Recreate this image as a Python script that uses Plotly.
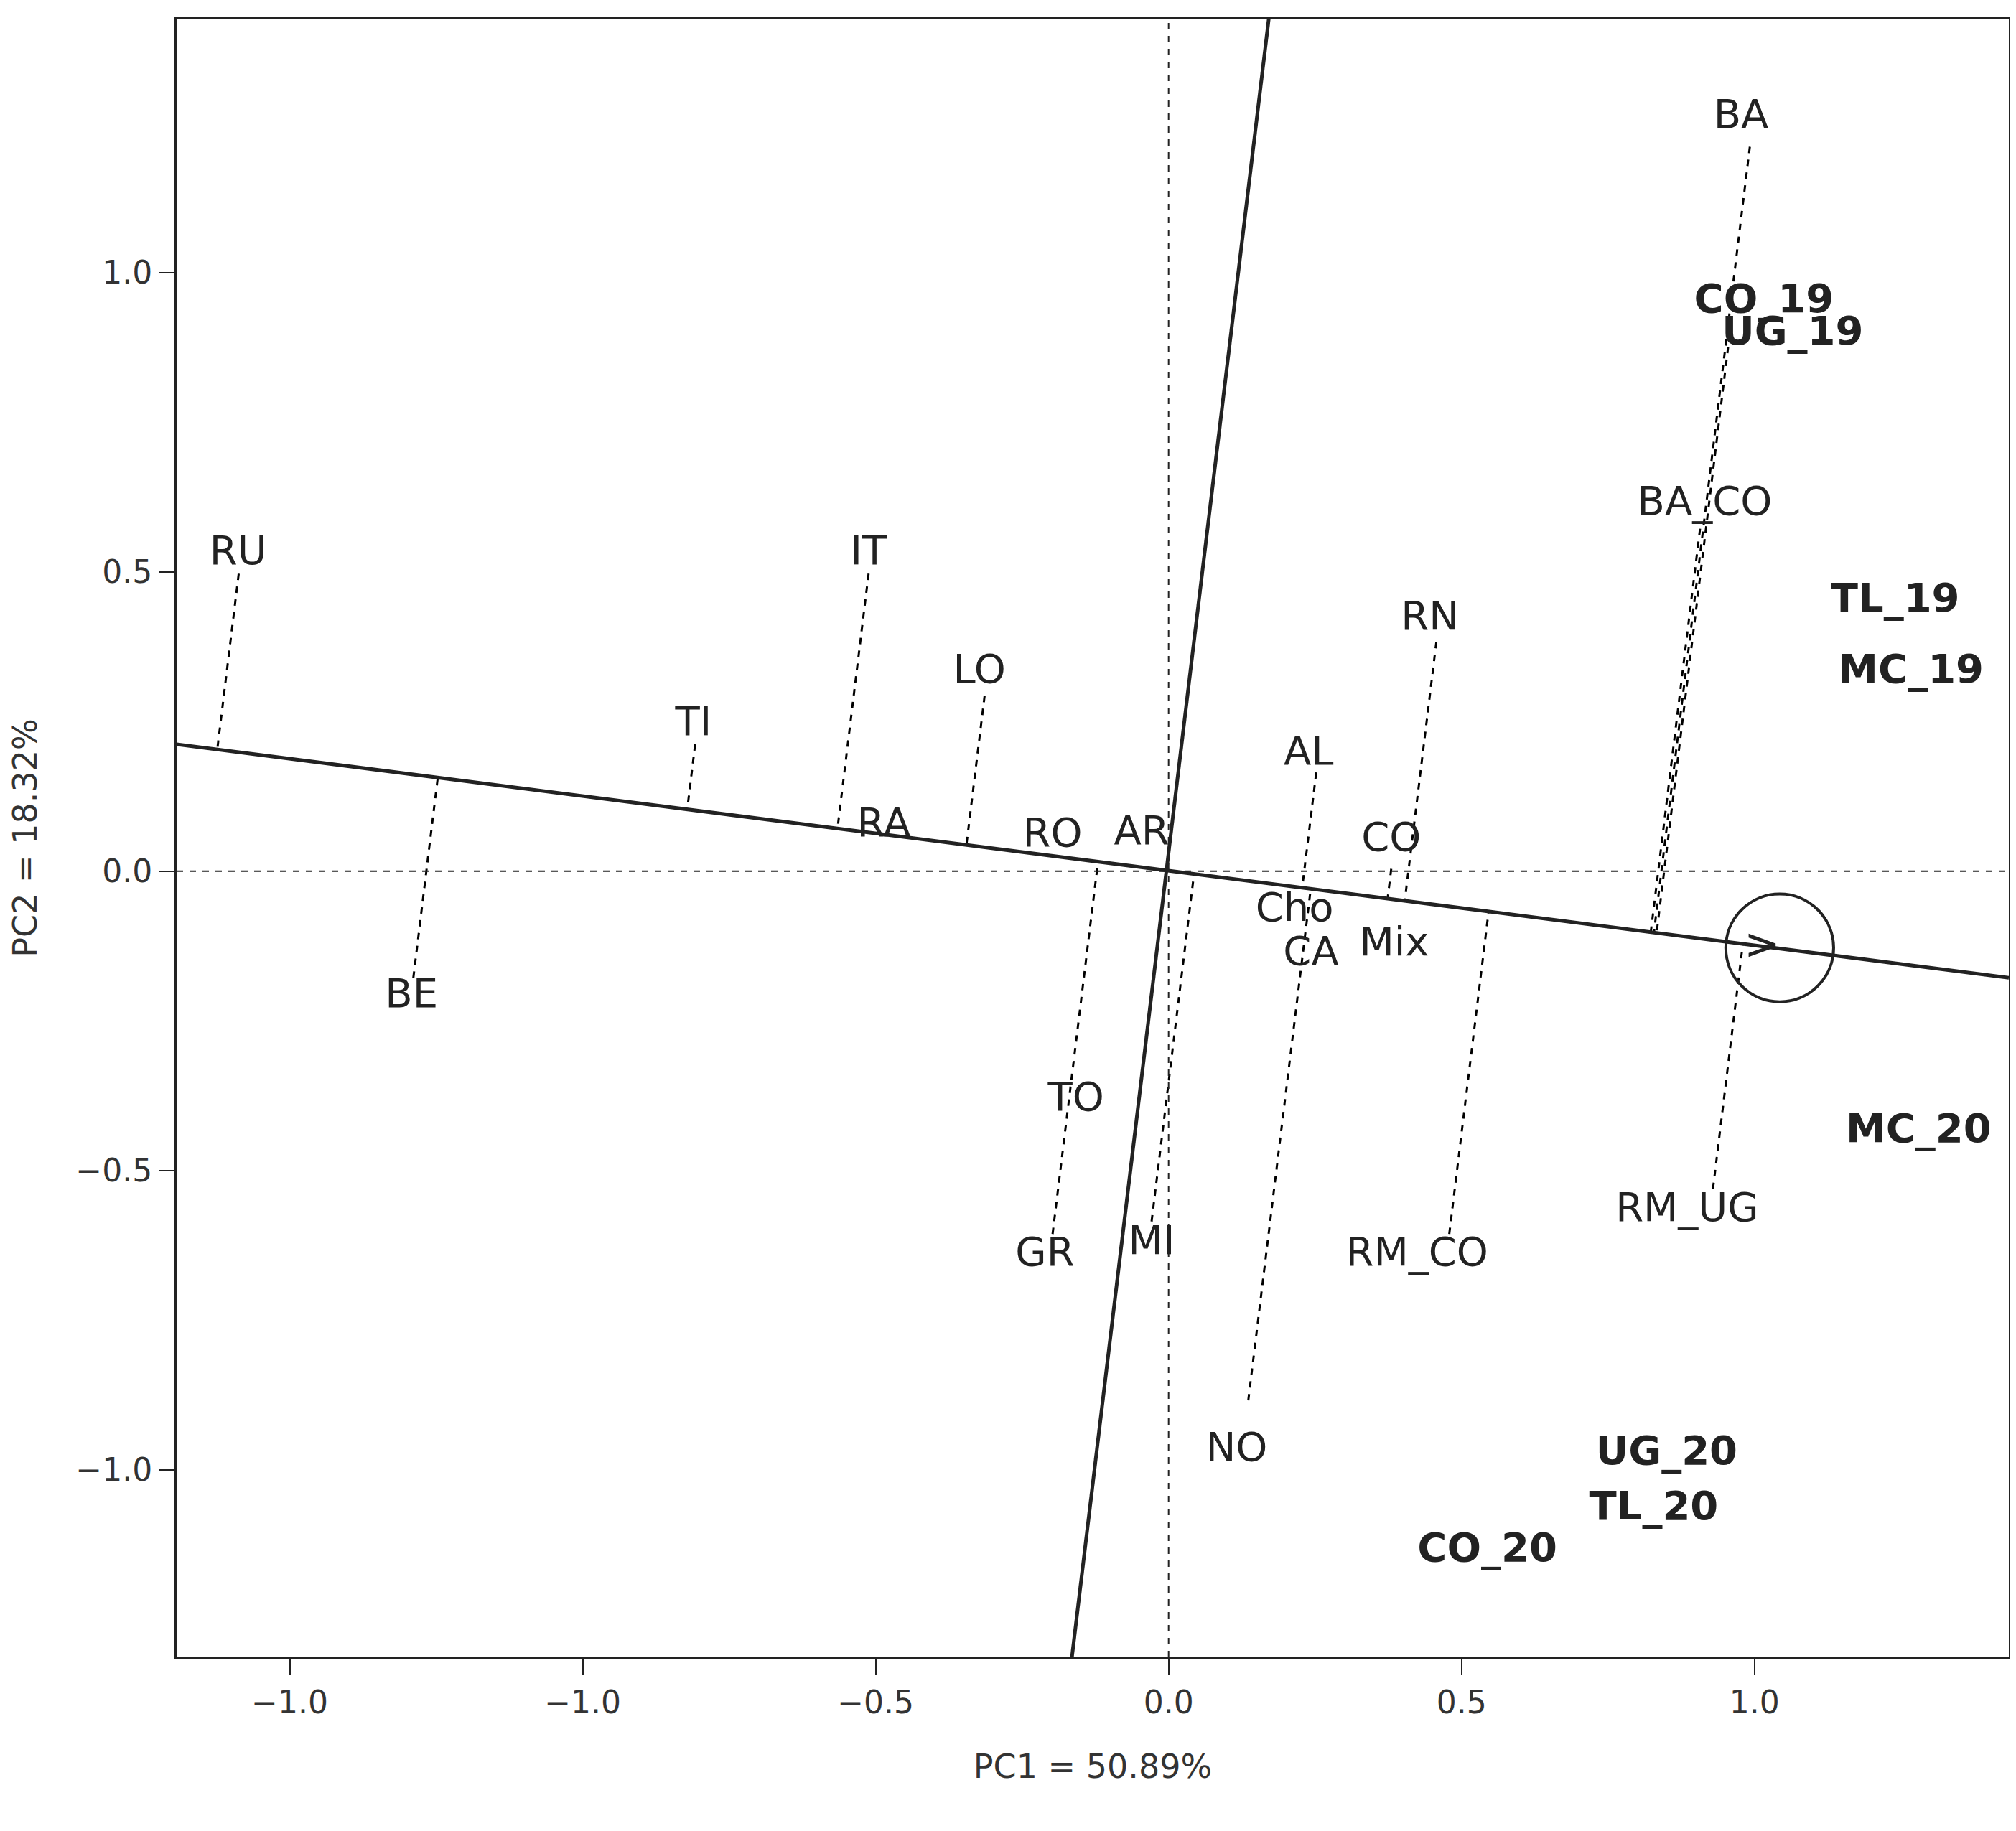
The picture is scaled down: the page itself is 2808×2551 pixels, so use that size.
import plotly.graph_objects as go

# genotype labels (regular weight)
gen_names = ["RU","IT","LO","TI","RA","RO","AR","BE","TO","GR","MI","NO","AL","Cho","CA","CO","Mix","RN","RM_CO","BA","BA_CO","RM_UG"]
gen_x = [-1.588,-0.512,-0.323,-0.811,-0.486,-0.198,-0.046,-1.292,-0.158,-0.211,-0.029,0.116,0.239,0.215,0.243,0.380,0.385,0.446,0.424,0.977,0.915,0.885]
gen_y = [0.530,0.530,0.332,0.244,0.075,0.058,0.062,-0.210,-0.383,-0.642,-0.623,-0.968,0.195,-0.066,-0.139,0.051,-0.124,0.420,-0.642,1.259,0.612,-0.567]

# environment labels (bold)
env_names = ["CO_19","UG_19","TL_19","MC_19","MC_20","UG_20","TL_20","CO_20"]
env_x = [1.016,1.065,1.240,1.267,1.280,0.850,0.828,0.544]
env_y = [0.951,0.897,0.450,0.332,-0.435,-0.974,-1.066,-1.135]

# dashed projection lines: outer end points
proj_x = [-1.587,-0.512,-0.314,-0.808,-1.289,-0.198,-0.029,0.136,0.252,0.380,0.457,0.479,0.992,0.907,0.955,0.929]
proj_y = [0.497,0.497,0.293,0.212,-0.178,-0.606,-0.585,-0.884,0.165,0.004,0.383,-0.606,1.210,0.572,0.876,-0.531]

# average environment axis and its perpendicular
aea_x = [-1.693, 1.434]
aea_y = [0.212, -0.178]
perp_x = [0.171, -0.165]
perp_y = [1.424, -1.313]
circ_cx, circ_cy, circ_rx, circ_ry = 1.043, -0.128, 0.092, 0.090

xrange_ = [-1.693, 1.434]
yrange_ = [-1.313, 1.424]
xticks = [-1.5, -1.0, -0.5, 0.0, 0.5, 1.0]
xticktext = ["−1.0", "−1.0", "−0.5", "0.0", "0.5", "1.0"]
yticks = [-1.0, -0.5, 0.0, 0.5, 1.0]
yticktext = ["−1.0", "−0.5", "0.0", "0.5", "1.0"]

fig = go.Figure()
dx, dy = aea_x[1]-aea_x[0], aea_y[1]-aea_y[0]
L2 = dx*dx+dy*dy
for px, py in zip(proj_x, proj_y):
    t = ((px-aea_x[0])*dx + (py-aea_y[0])*dy)/L2
    qx, qy = aea_x[0]+t*dx, aea_y[0]+t*dy
    fig.add_trace(go.Scatter(x=[px, qx], y=[py, qy], mode="lines",
                             line=dict(color="black", width=3, dash="dash"), hoverinfo="skip"))
fig.add_trace(go.Scatter(x=aea_x, y=aea_y, mode="lines", line=dict(color="#222", width=5)))
fig.add_trace(go.Scatter(x=perp_x, y=perp_y, mode="lines", line=dict(color="#222", width=5)))
fig.add_trace(go.Scatter(x=gen_x, y=gen_y, mode="text", text=gen_names,
                         textfont=dict(family="DejaVu Sans", size=56, color="#222")))
fig.add_trace(go.Scatter(x=env_x, y=env_y, mode="text", text=["<b>%s</b>" % n for n in env_names],
                         textfont=dict(family="DejaVu Sans", size=56, color="#222")))
fig.add_trace(go.Scatter(x=[circ_cx-0.03], y=[circ_cy], mode="text", text=[">"],
                         textfont=dict(family="DejaVu Sans", size=60, color="#222")))
fig.add_shape(type="circle", x0=circ_cx-circ_rx, x1=circ_cx+circ_rx, y0=circ_cy-circ_ry, y1=circ_cy+circ_ry,
              line=dict(color="#222", width=4))
fig.add_shape(type="line", x0=0, x1=0, y0=yrange_[0], y1=yrange_[1], line=dict(color="#222", width=2, dash="dash"))
fig.add_shape(type="line", x0=xrange_[0], x1=xrange_[1], y0=0, y1=0, line=dict(color="#222", width=2, dash="dash"))

axis_common = dict(showgrid=False, zeroline=False, showline=True, mirror=True, linecolor="#222", linewidth=3,
                   ticks="outside", ticklen=22, tickwidth=2, tickcolor="#222",
                   tickfont=dict(family="DejaVu Sans", size=44, color="#333"))
fig.update_layout(
    width=2808, height=2551, showlegend=False,
    plot_bgcolor="white", paper_bgcolor="white",
    margin=dict(l=238, r=18, t=18, b=250),
    xaxis=dict(range=xrange_, tickvals=xticks, ticktext=xticktext,
               title=dict(text="PC1 = 50.89%", font=dict(family="DejaVu Sans", size=46, color="#333"), standoff=50),
               **axis_common),
    yaxis=dict(range=yrange_, tickvals=yticks, ticktext=yticktext,
               title=dict(text="PC2 = 18.32%", font=dict(family="DejaVu Sans", size=46, color="#333"), standoff=40),
               **axis_common),
)
fig.write_html("out.html")
